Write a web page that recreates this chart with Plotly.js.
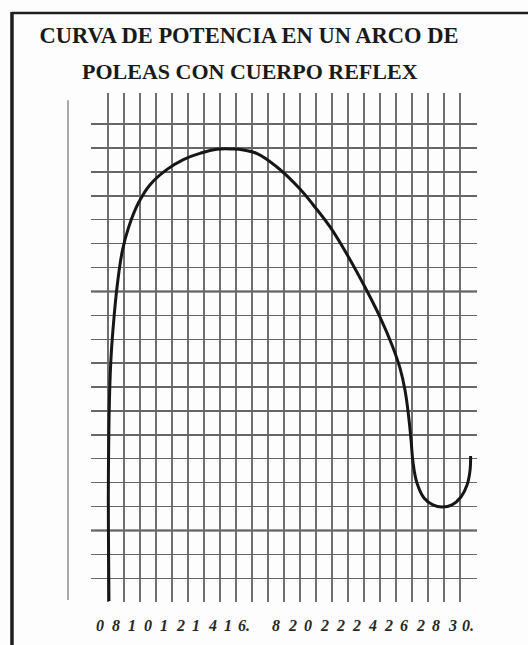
<!DOCTYPE html>
<html>
<head>
<meta charset="utf-8">
<script src="https://cdn.plot.ly/plotly-3.0.1.min.js"></script>
<style>html,body{margin:0;padding:0;background:#fdfdfd;}#chart{width:528px;height:645px;}</style>
</head>
<body>
<div id="chart"></div>
<script>
// Title lines
const titleLine1 = "CURVA DE POTENCIA EN UN ARCO DE";
const titleLine2 = "POLEAS CON CUERPO REFLEX";

// Bottom label characters, one per grid cell (as printed, with the missing "1" of 18)
const cellLabels = ["0","8","1","0","1","2","1","4","1","6.","","8","2","0","2","2","2","4","2","6","2","8","3","0."];

// Grid positions (grid units)
const gridX = [0,1,2,3,4,5,6,7,8,9,10,11,12,13,14,15,16,17,18,19,20,21,22,23,24];
const gridY = [0,1,2,3,4,5,6,7,8,9,10,11,12,13,14,15,16,17,18,19];
const boldRows = [2,8,12,17];

// Power curve (grid units)
const curveX = [1.06,1.04,1.02,1.04,1.09,1.18,1.31,1.58,1.91,2.30,2.89,3.63,4.67,5.71,6.75,7.79,8.83,9.46,10.29,11.54,13.00,13.83,14.88,15.92,16.96,18.00,18.75,19.25,19.56,19.78,19.94,20.06,20.31,20.75,21.31,21.88,22.50,23.06,23.44,23.63,23.66];
const curveY = [-0.95,0.77,3.28,5.37,7.46,9.13,10.39,12.27,13.74,14.71,15.69,16.47,17.10,17.52,17.78,17.95,17.96,17.92,17.78,17.22,16.29,15.62,14.70,13.57,12.31,10.93,9.76,8.79,7.88,6.83,5.79,4.87,3.99,3.36,3.07,2.98,3.07,3.40,3.90,4.53,5.12];

const trace = {
  x: curveX, y: curveY, type: 'scatter', mode: 'lines',
  line: {color: '#161616', width: 3, shape: 'spline', smoothing: 1.2},
  hoverinfo: 'skip', showlegend: false
};

const shapes = [
  // frame: left thick line and top line
  {type:'line', xref:'paper', yref:'paper', x0:-0.2047, x1:-0.2047, y0:1.159, y1:-0.09, line:{color:'#1e1e1e', width:3.5}, layer:'above'},
  {type:'line', xref:'paper', yref:'paper', x0:-0.2047, x1:1.14, y0:1.1572, y1:1.1572, line:{color:'#1e1e1e', width:2.5}, layer:'above'},
  // isolated vertical line left of the grid
  {type:'line', xref:'paper', yref:'paper', x0:-0.0596, x1:-0.0596, y0:0.986, y1:0.004, line:{color:'#7a7a7a', width:1.3}, layer:'below'}
];
boldRows.forEach(r => shapes.push({type:'line', xref:'paper', yref:'y', x0:0, x1:1, y0:r, y1:r, line:{color:'#3a3a3a', width:2}, layer:'between'}));

const annotations = cellLabels.map((t, i) => ({
  text: t === "" ? "" : "<b><i>" + t + "</i></b>",
  x: gridX[i] + 0.5, xref: 'x', y: -0.047, yref: 'paper',
  xanchor: 'center', yanchor: 'middle', showarrow: false,
  font: {family: 'Liberation Serif, Times New Roman, serif', size: 16, color: '#262626'}
}));
annotations.push({
  text: "<b>" + titleLine2 + "</b>", x: 0.412, xref: 'paper', y: 1.042, yref: 'paper',
  xanchor: 'center', yanchor: 'middle', showarrow: false,
  font: {family: 'Liberation Serif, Times New Roman, serif', size: 22, color: '#1a1a1a'}
});

const layout = {
  width: 528, height: 645,
  margin: {l: 91, r: 51, t: 93, b: 43, pad: 0},
  paper_bgcolor: '#fdfdfd', plot_bgcolor: '#fdfdfd',
  title: {
    text: "<b>" + titleLine1 + "</b>",
    x: 0.4716, xanchor: 'center', xref: 'container',
    y: 0.945, yanchor: 'middle', yref: 'container',
    font: {family: 'Liberation Serif, Times New Roman, serif', size: 22.5, color: '#1a1a1a'}
  },
  xaxis: {range: [-0.0625, 24.0625], tickvals: gridX, showticklabels: false, ticks: '',
          showgrid: true, gridcolor: '#707070', gridwidth: 1.4, zeroline: false, showline: false, fixedrange: true},
  yaxis: {range: [-0.992, 20.305], tickvals: gridY, showticklabels: false, ticks: '',
          showgrid: true, gridcolor: '#666666', gridwidth: 1.4, zeroline: false, showline: false, fixedrange: true},
  shapes: shapes,
  annotations: annotations,
  showlegend: false
};

Plotly.newPlot('chart', [trace], layout, {displayModeBar: false, staticPlot: true});
</script>
</body>
</html>
